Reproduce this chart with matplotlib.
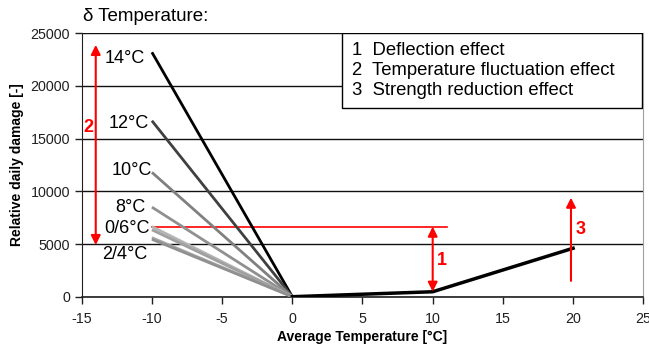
import matplotlib.pyplot as plt
from matplotlib.patches import Rectangle

plt.rcParams['font.family'] = ['Liberation Sans', 'DejaVu Sans']
plt.rcParams['axes.unicode_minus'] = False

# Damage lines for cold days, one per temperature fluctuation
delta_labels = ['14°C', '12°C', '10°C', '8°C', '0°C', '6°C', '2°C', '4°C']
damage_at_minus10 = [23200, 16700, 11800, 8500, 6650, 6350, 5600, 5450]
line_colors = ['#000000', '#404040', '#808080', '#909090',
               '#b4b4b4', '#a0a0a0', '#a8a8a8', '#909090']

# Label texts drawn next to the line starts
group_labels = ['14°C', '12°C', '10°C', '8°C', '0/6°C', '2/4°C']
group_label_x = [-10.5, -10.2, -10.0, -10.45, -10.15, -10.35]
group_label_y = [22600, 16400, 12000, 8450, 6500, 4050]

# Warm side: deflection and strength reduction
warm_temp = [0, 10, 20]
warm_damage = [0, 470, 4600]

legend_lines = ['1  Deflection effect',
                '2  Temperature fluctuation effect',
                '3  Strength reduction effect']

fig = plt.figure(figsize=(6.49, 3.45), dpi=100)
ax = fig.add_axes([0.1259, 0.14, 0.8653, 0.7635])

for v, c in zip(damage_at_minus10, line_colors):
    ax.plot([-10, 0], [v, 0], color=c, lw=2, solid_capstyle='butt', zorder=3)
ax.plot(warm_temp, warm_damage, color='black', lw=2.5, zorder=4)

for lab, x, y in zip(group_labels, group_label_x, group_label_y):
    ax.text(x, y, lab, ha='right', va='center', fontsize=13)

# red reference line and effect arrows
ref = damage_at_minus10[4]
ax.plot([-10, 11], [ref, ref], color='red', lw=1.2, zorder=2)
red_arrow = dict(arrowstyle='-|>', color='red', lw=1.5, mutation_scale=14,
                 shrinkA=0, shrinkB=0)
ax.annotate('', xy=(10, warm_damage[1]), xytext=(10, ref),
            arrowprops=dict(red_arrow, arrowstyle='<|-|>'), zorder=5)
ax.text(10.3, 3450, '1', color='red', fontsize=13, fontweight='bold',
        ha='left', va='center')
ax.annotate('', xy=(-14, 4900), xytext=(-14, 23900),
            arrowprops=dict(red_arrow, arrowstyle='<|-|>'), zorder=5)
ax.text(-14.5, 16100, '2', color='red', fontsize=13, fontweight='bold',
        ha='center', va='center')
ax.annotate('', xy=(19.85, 9400), xytext=(19.85, 1500),
            arrowprops=red_arrow, zorder=5)
ax.text(20.2, 6400, '3', color='red', fontsize=13, fontweight='bold',
        ha='left', va='center')

ax.set_xlim(-15, 25)
ax.set_ylim(0, 25000)
ax.set_xticks(range(-15, 26, 5))
ax.set_yticks(range(0, 25001, 5000))
ax.yaxis.grid(True, color='#101010', lw=1)
ax.set_axisbelow(True)
ax.tick_params(labelsize=10.3, direction='out', length=5, width=1, colors='#202020')
ax.tick_params(axis='x', pad=6)
ax.spines['top'].set_visible(False)
ax.spines['right'].set_color('#a0a0a0')
ax.spines['left'].set_color('#202020')
ax.spines['bottom'].set_color('#202020')
ax.spines['bottom'].set_linewidth(1.2)

ax.set_xlabel('Average Temperature [°C]', fontsize=10, fontweight='bold', labelpad=3)
ax.set_ylabel('Relative daily damage [-]', fontsize=10, fontweight='bold')
ax.yaxis.set_label_coords(-0.103, 0.5)
fig.text(0.128, 0.953, 'δ Temperature:', fontsize=13.5, ha='left', va='center')

# effects box in the upper right corner
ax.add_patch(Rectangle((0.4629, 0.7149), 0.5353, 0.2851, transform=ax.transAxes,
                       facecolor='white', edgecolor='black', lw=1, zorder=6))
for i, t in enumerate(legend_lines):
    ax.text(0.4820, 0.935 - i * 0.0765, t, transform=ax.transAxes,
            fontsize=13.3, ha='left', va='center', zorder=7)

fig.savefig('out.png', dpi=100)
